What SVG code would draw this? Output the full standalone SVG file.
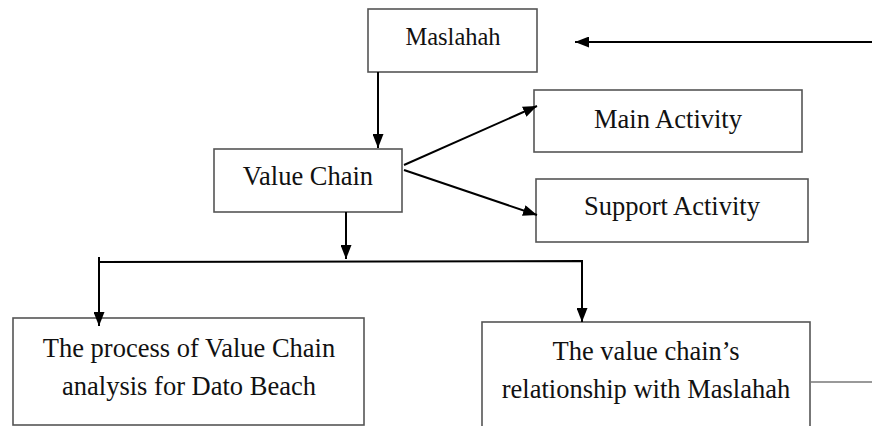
<svg xmlns="http://www.w3.org/2000/svg" width="872" height="426" viewBox="0 0 872 426">
<style>
.box{fill:#fff;stroke:#555;stroke-width:1.6}
.t{font-family:"Liberation Serif","Times New Roman",serif;font-size:26.5px;fill:#111;text-anchor:middle}
.ln{stroke:#000;stroke-width:2;fill:none}
</style>
<defs>
<marker id="ah" viewBox="0 0 14 11" refX="14" refY="5.5" markerWidth="14" markerHeight="11" markerUnits="userSpaceOnUse" orient="auto">
<path d="M0,0 L14,5.5 L0,11 Z" fill="#000"/>
</marker>
</defs>
<rect width="872" height="426" fill="#fff"/>
<g id="maslahah">
<rect class="box" x="368" y="9" width="169" height="63"/>
<text class="t" x="453" y="45" style="font-size:24.5px">Maslahah</text>
</g>
<g id="value-chain">
<rect class="box" x="214" y="149" width="188" height="63"/>
<text class="t" x="308" y="185">Value Chain</text>
</g>
<g id="main-activity">
<rect class="box" x="534" y="90" width="268" height="62"/>
<text class="t" x="668" y="128">Main Activity</text>
</g>
<g id="support-activity">
<rect class="box" x="536" y="179" width="272" height="63"/>
<text class="t" x="672" y="215">Support Activity</text>
</g>
<g id="process">
<rect class="box" x="13" y="318" width="351" height="107"/>
<text class="t" x="189" y="357">The process of Value Chain</text>
<text class="t" x="189" y="395">analysis for Dato Beach</text>
</g>
<g id="relationship">
<rect class="box" x="482" y="322" width="328" height="110"/>
<text class="t" x="646" y="360">The value chain’s</text>
<text class="t" x="646" y="398">relationship with Maslahah</text>
</g>
<g id="connectors">
<line class="ln" x1="872" y1="42" x2="575" y2="42" marker-end="url(#ah)"/>
<line class="ln" x1="378" y1="72" x2="378" y2="148" marker-end="url(#ah)"/>
<line class="ln" x1="404" y1="165" x2="537" y2="106" marker-end="url(#ah)"/>
<line class="ln" x1="404" y1="170" x2="537" y2="215" marker-end="url(#ah)"/>
<line class="ln" x1="346" y1="212" x2="346" y2="259" marker-end="url(#ah)"/>
<polyline class="ln" points="98,262 582,261 582,322" marker-end="url(#ah)"/>
<line class="ln" x1="99" y1="257" x2="99" y2="326" marker-end="url(#ah)"/>
<line x1="811" y1="382" x2="872" y2="382" stroke="#777" stroke-width="1.6"/>
</g>
</svg>
